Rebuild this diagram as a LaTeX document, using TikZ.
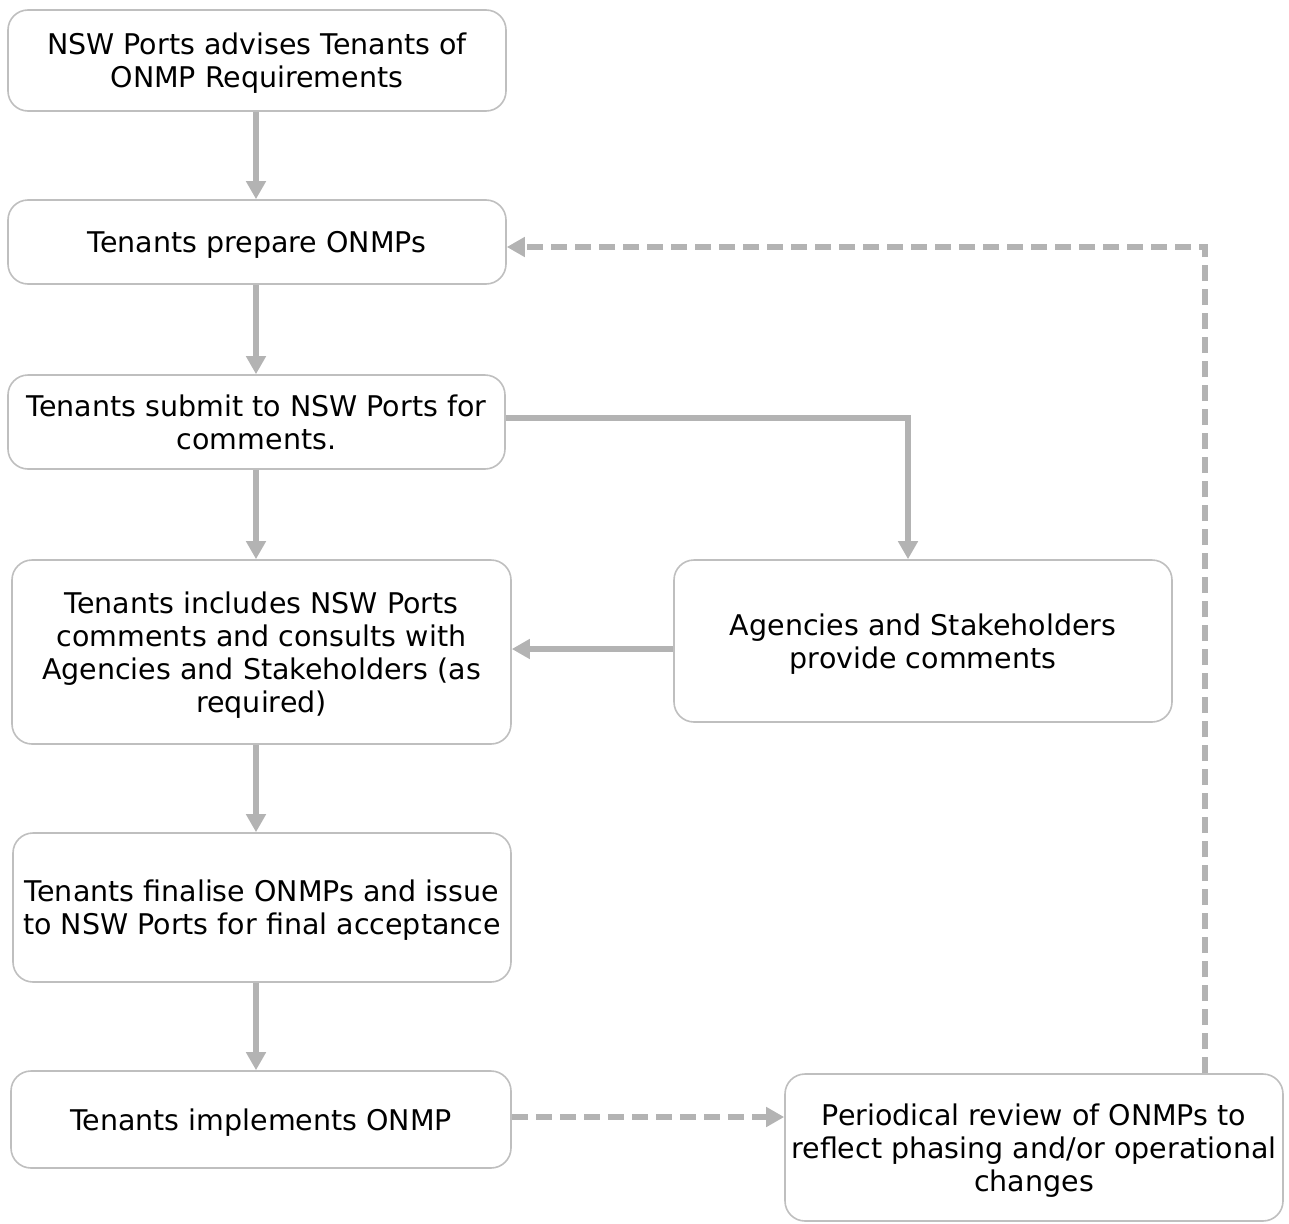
\documentclass[tikz,border=0pt]{standalone}
\usepackage{fontspec}
\setmainfont{DejaVu Sans}
\usepackage{tikz}
\usetikzlibrary{arrows.meta}
\definecolor{boxline}{HTML}{BFBFBF}
\definecolor{arrowgrey}{HTML}{B3B3B3}
\tikzset{
	stage/.style={draw=boxline, line width=1.6pt, rounded corners=20pt, fill=white,
		align=center, inner sep=0pt, text depth=-4pt, font=\fontsize{28.5}{33}\selectfont},
	flow/.style={draw=arrowgrey, line width=6pt,
		-{Triangle[length=18pt,width=19pt]}},
	feedback/.style={flow, dash pattern=on 16pt off 8pt},
}
\begin{document}
\begin{tikzpicture}[x=1pt,y=-1pt]
	\useasboundingbox (0,0) rectangle (1289,1223);
	% Main column
	\node [stage, minimum width=498pt, minimum height=101pt] (advise) at (257,60.5)
		{NSW Ports advises Tenants of\\ONMP Requirements};
	\node [stage, minimum width=498pt, minimum height=84pt] (prepare) at (257,242)
		{Tenants prepare ONMPs};
	\node [stage, minimum width=497pt, minimum height=94pt] (submit) at (256.5,422)
		{Tenants submit to NSW Ports for\\comments.};
	\node [stage, minimum width=499pt, minimum height=184pt] (includes) at (261.5,652)
		{Tenants includes NSW Ports\\comments and consults with\\Agencies and Stakeholders (as\\required)};
	\node [stage, minimum width=498pt, minimum height=149pt] (finalise) at (262,907.5)
		{Tenants finalise ONMPs and issue\\to NSW Ports for final acceptance};
	\node [stage, minimum width=500pt, minimum height=97pt] (implement) at (261,1119.5)
		{Tenants implements ONMP};
	% Side boxes
	\node [stage, minimum width=498pt, minimum height=162pt] (agencies) at (923,641)
		{Agencies and Stakeholders\\provide comments};
	\node [stage, minimum width=498pt, minimum height=147pt] (review) at (1034,1147.5)
		{Periodical review of ONMPs to\\reflect phasing and/or operational\\changes};
	% Arrows
	\draw [flow] (advise.south -| 256,0) -- (prepare.north -| 256,0);
	\draw [flow] (prepare.south -| 256,0) -- (submit.north -| 256,0);
	\draw [flow] (submit.south -| 256,0) -- (includes.north -| 256,0);
	\draw [flow] (submit.east |- 0,418) -| (agencies.north -| 908,0);
	\draw [flow] (agencies.west |- 0,649) -- (includes.east |- 0,649);
	\draw [flow] (includes.south -| 256,0) -- (finalise.north -| 256,0);
	\draw [flow] (finalise.south -| 256,0) -- (implement.north -| 256,0);
	% Review loop
	\draw [feedback] (implement.east |- 0,1117) -- (review.west |- 0,1117);
	\draw [feedback] (review.north -| 1205,0) |- (prepare.east |- 0,247);
\end{tikzpicture}
\end{document}
